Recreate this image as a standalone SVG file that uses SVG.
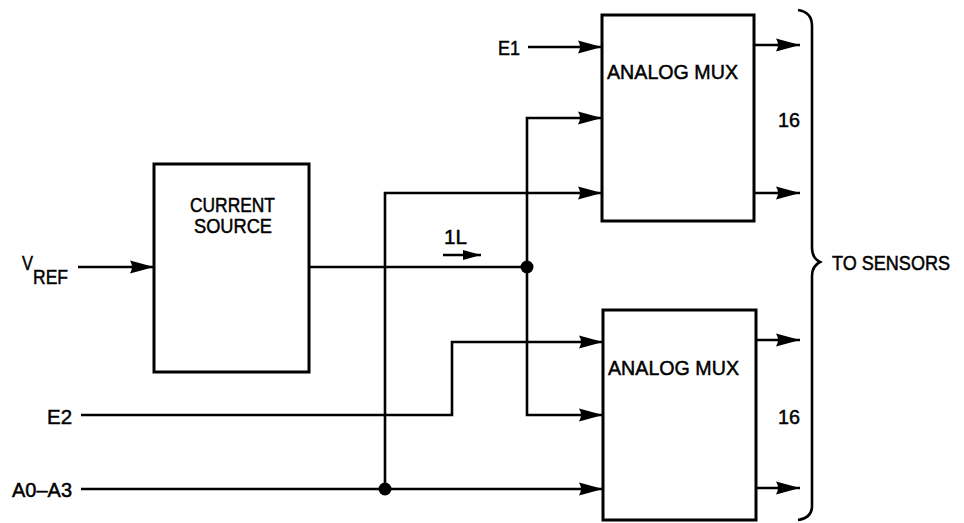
<svg xmlns="http://www.w3.org/2000/svg" width="964" height="523" viewBox="0 0 964 523">
<style>
.box{fill:#fff;stroke:#000;stroke-width:3}
.w{fill:none;stroke:#000;stroke-width:2.6}
.t{font-family:"Liberation Sans",Arial,sans-serif;font-size:21px;fill:#000;stroke:#000;stroke-width:0.5}
</style>
<defs>
<marker id="ah" markerUnits="userSpaceOnUse" markerWidth="26" markerHeight="16" refX="24" refY="8" orient="auto" viewBox="0 0 26 16">
<path d="M0,1.5 L24,8 L0,14.5 Q4,8 0,1.5 z" fill="#000"/>
</marker>
<marker id="ahs" markerUnits="userSpaceOnUse" markerWidth="20" markerHeight="14" refX="18" refY="7" orient="auto" viewBox="0 0 20 14">
<path d="M0,2 L18,7 L0,12 z" fill="#000"/>
</marker>
</defs>
<rect width="964" height="523" fill="#fff"/>
<g id="connectors">
<path class="w" d="M78,267 H154" marker-end="url(#ah)"/>
<path class="w" d="M528,47 H602" marker-end="url(#ah)"/>
<path class="w" d="M309,267 H527"/>
<path class="w" d="M527,267 V118 H602" marker-end="url(#ah)"/>
<path class="w" d="M527,267 V415 H603" marker-end="url(#ah)"/>
<path class="w" d="M385,489 V193 H602" marker-end="url(#ah)"/>
<path class="w" d="M81,415 H452 V342 H603" marker-end="url(#ah)"/>
<path class="w" d="M81,489 H603" marker-end="url(#ah)"/>
<path class="w" d="M754,45 H800" marker-end="url(#ah)"/>
<path class="w" d="M754,193 H800" marker-end="url(#ah)"/>
<path class="w" d="M756,340 H800" marker-end="url(#ah)"/>
<path class="w" d="M756,488 H800" marker-end="url(#ah)"/>
<path class="w" d="M443,255 H481" marker-end="url(#ahs)"/>
<circle cx="527" cy="267" r="6.5" fill="#000"/>
<circle cx="385" cy="489" r="6.5" fill="#000"/>
<path class="w" d="M798,10 Q812,12 812,26 V248 Q812,258 820,262 Q812,266 812,276 V506 Q812,518 798,520"/>
</g>
<g id="current-source">
<rect class="box" x="154" y="164" width="155" height="208"/>
<text class="t" x="190" y="212" textLength="85" lengthAdjust="spacingAndGlyphs">CURRENT</text>
<text class="t" x="194" y="233" textLength="78" lengthAdjust="spacingAndGlyphs">SOURCE</text>
</g>
<g id="mux1">
<rect class="box" x="602" y="15" width="152" height="206"/>
<text class="t" x="607" y="79" textLength="131" lengthAdjust="spacingAndGlyphs">ANALOG MUX</text>
</g>
<g id="mux2">
<rect class="box" x="603" y="310" width="153" height="210"/>
<text class="t" x="608" y="375" textLength="131" lengthAdjust="spacingAndGlyphs">ANALOG MUX</text>
</g>
<g id="labels">
<text class="t" x="22" y="270" textLength="11" lengthAdjust="spacingAndGlyphs">V</text>
<text class="t" x="33" y="284" textLength="35" lengthAdjust="spacingAndGlyphs">REF</text>
<text class="t" x="498" y="55" textLength="22" lengthAdjust="spacingAndGlyphs">E1</text>
<text class="t" x="47" y="424" textLength="25" lengthAdjust="spacingAndGlyphs">E2</text>
<text class="t" x="12" y="497" textLength="60" lengthAdjust="spacingAndGlyphs">A0–A3</text>
<text class="t" x="444" y="244" textLength="23" lengthAdjust="spacingAndGlyphs">1L</text>
<text class="t" x="778" y="127" textLength="22" lengthAdjust="spacingAndGlyphs">16</text>
<text class="t" x="778" y="424" textLength="22" lengthAdjust="spacingAndGlyphs">16</text>
<text class="t" x="832" y="270" textLength="118" lengthAdjust="spacingAndGlyphs">TO SENSORS</text>
</g>
</svg>
